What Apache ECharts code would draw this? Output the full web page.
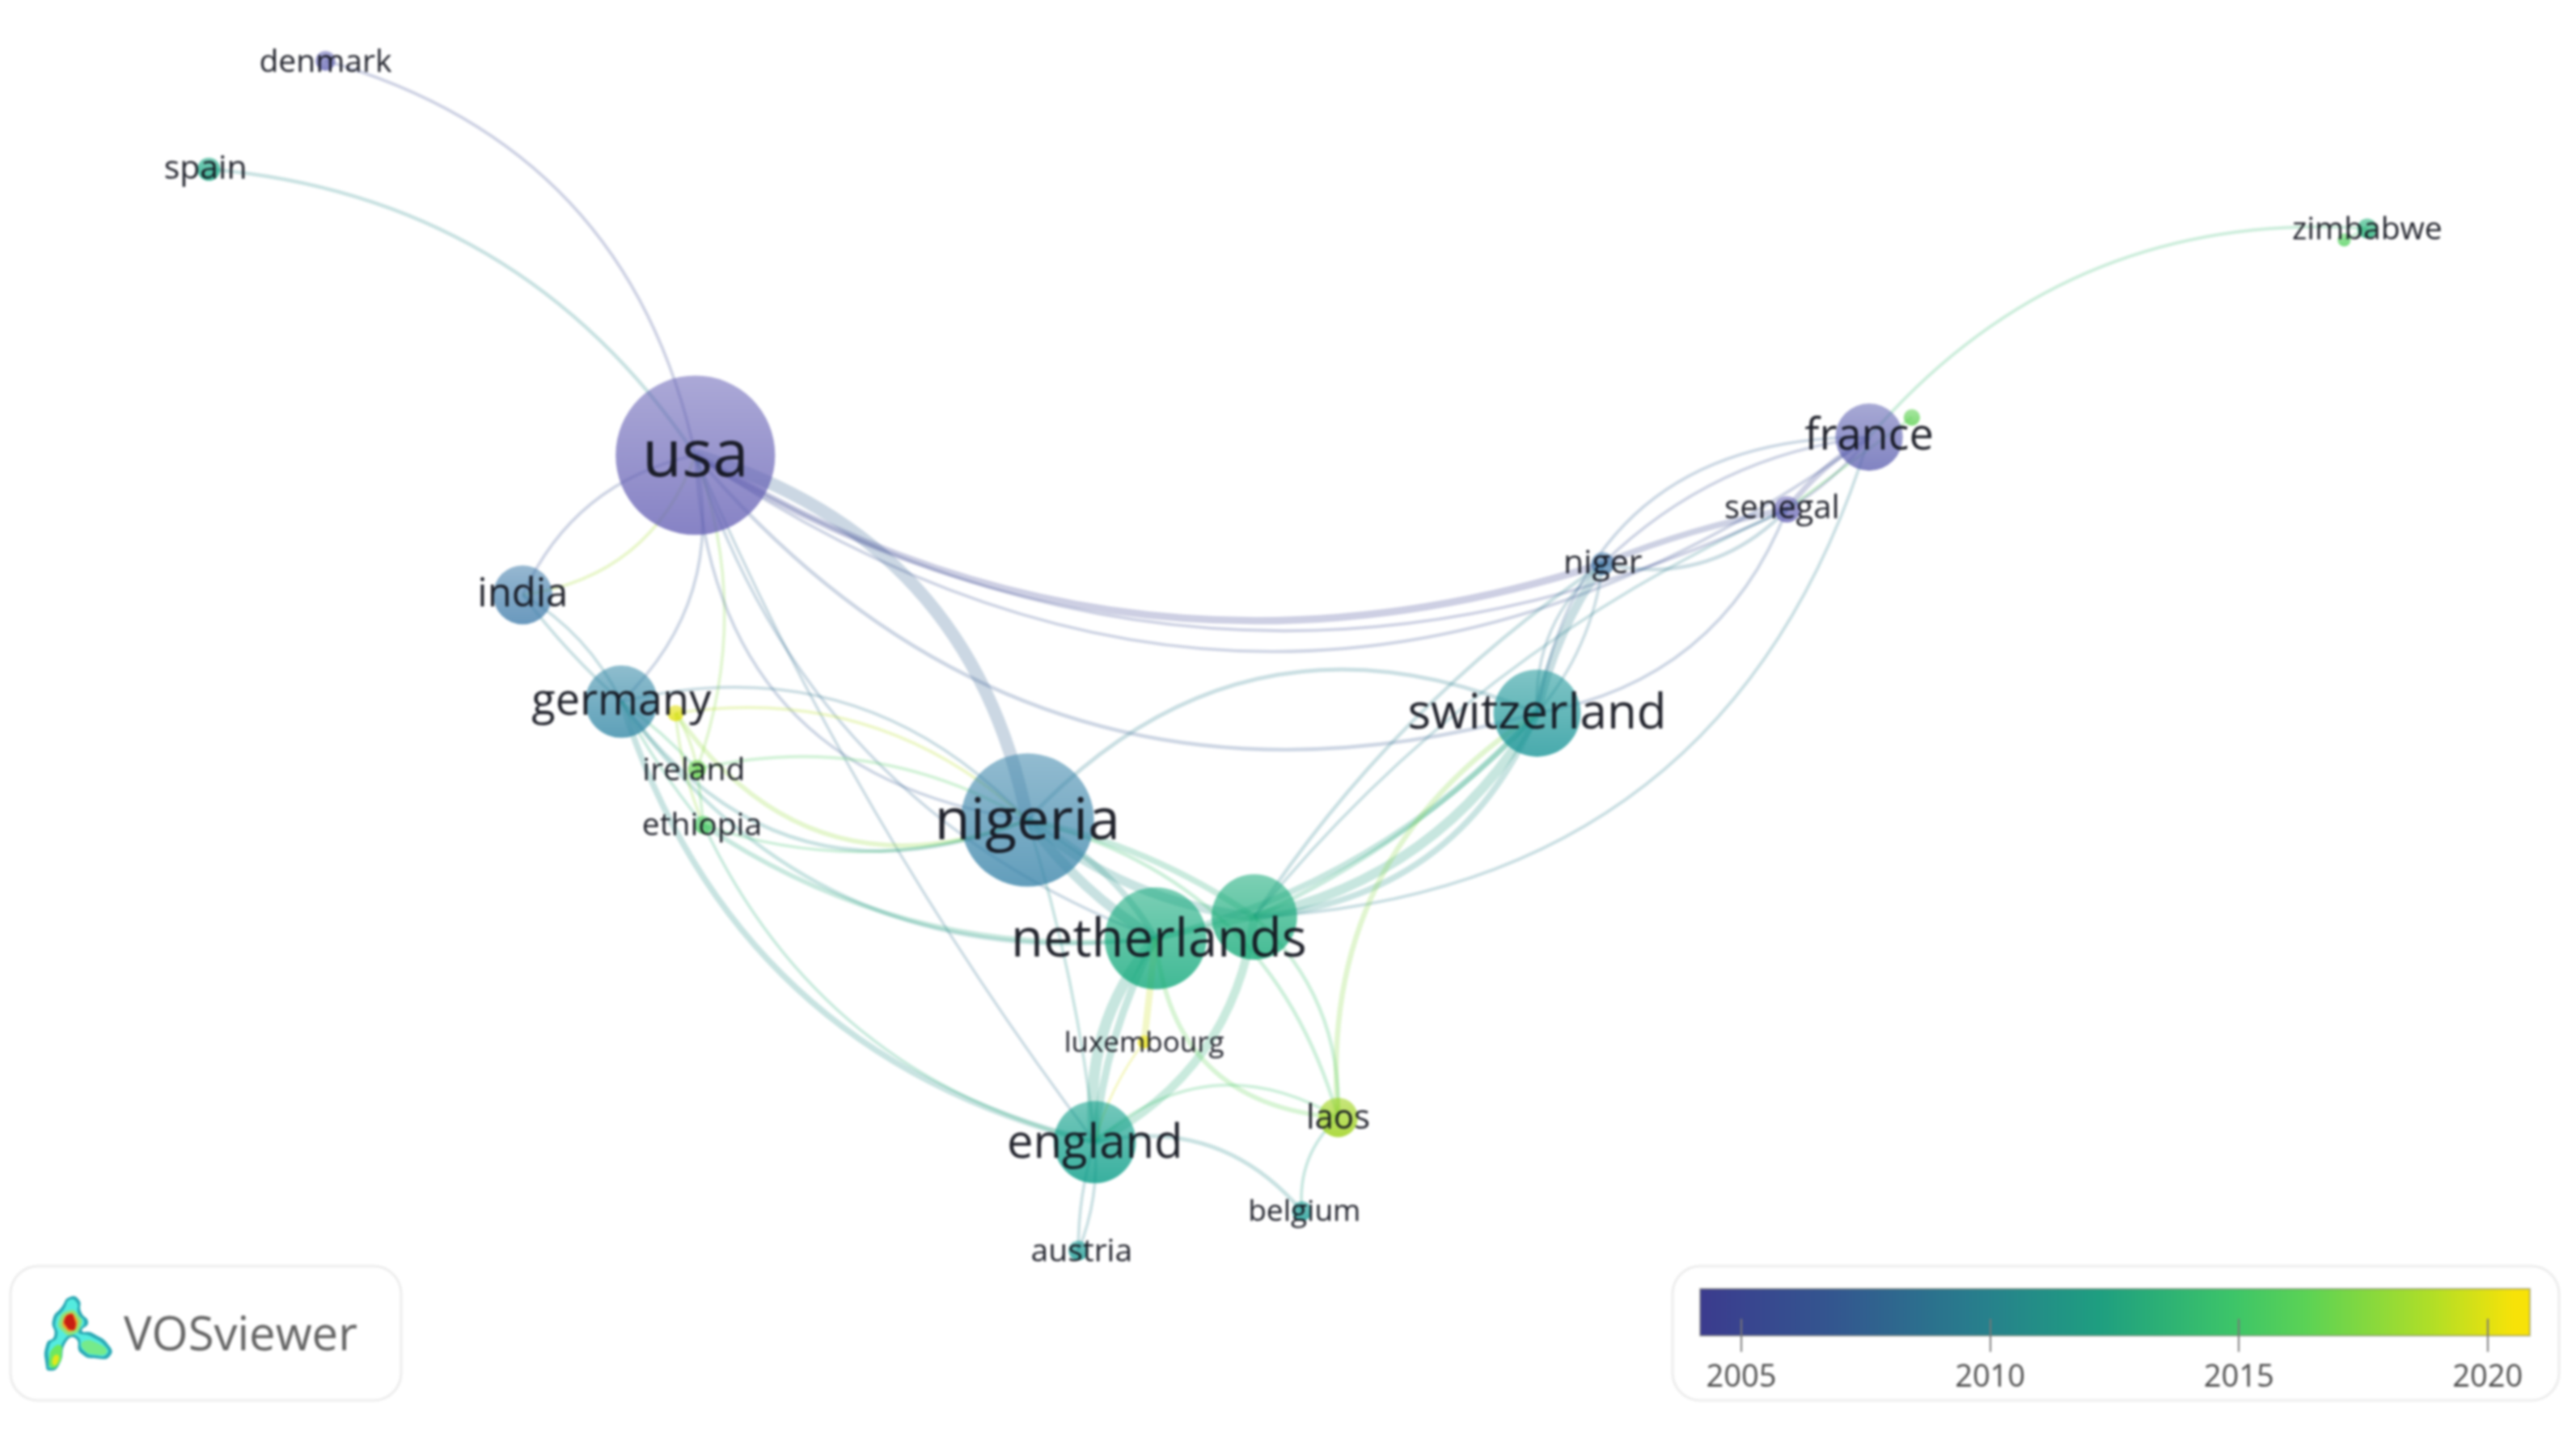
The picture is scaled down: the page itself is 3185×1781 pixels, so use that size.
<!DOCTYPE html>
<html><head><meta charset="utf-8">
<style>html,body{margin:0;padding:0;background:#fff}#main{width:3185px;height:1781px;filter:blur(1.7px)}</style>
<script src="https://cdn.jsdelivr.net/npm/echarts@6/dist/echarts.min.js"></script>
</head><body><div id="main"></div>
<script>
// Nodes of the co-authorship map (map units)
const nodeNames = ['usa','nigeria','netherlands','hidden-a','switzerland','england','germany','india','france','senegal','niger','laos','ireland','ethiopia','hidden-b','hidden-c','zimbabwe','hidden-d','denmark','spain','luxembourg','belgium','austria'];
const nodeX =     [423,625,703,763,935,666,378,318,1137,1087,975,814,424,428,411,1163,1440,1426,198,127,696,792,656];
const nodeY =     [277,499,571,558,434,695,427,362,266,310,343,680,468,502,434,254,139,146,37,103,634,737,761];
const nodeWeight =[97,81,62,52,53,50,44,36,41,16,14,24,11,11,10,10,12,8,12,14,8,12,12];
const nodeYear =  [2004.5,2008.5,2012.3,2012.5,2010.4,2011.3,2008.9,2008,2006,2005,2007.8,2018,2016.5,2015.5,2019.8,2016.3,2013,2016,2005.6,2012,2020,2010.8,2010.8];

// Links of the map
const linkPairs = [
 'denmark|usa','spain|usa','india|usa','india|usa','usa|germany','usa|ireland','usa|nigeria','usa|netherlands','usa|nigeria','usa|england',
 'usa|switzerland','usa|niger','usa|senegal','usa|france','germany|nigeria','hidden-b|nigeria','ireland|nigeria','hidden-b|nigeria','germany|nigeria','ethiopia|nigeria',
 'germany|netherlands','ethiopia|netherlands','germany|england','ethiopia|england','india|germany','india|germany','germany|ireland','hidden-b|ireland','germany|ethiopia','ireland|ethiopia',
 'hidden-b|ethiopia','nigeria|netherlands','nigeria|netherlands','nigeria|hidden-a','nigeria|hidden-a','nigeria|england','nigeria|switzerland','nigeria|laos','netherlands|hidden-a','netherlands|england',
 'netherlands|england','netherlands|luxembourg','luxembourg|england','hidden-a|england','hidden-a|switzerland','hidden-a|switzerland','hidden-a|switzerland','netherlands|switzerland','hidden-a|niger','hidden-a|senegal',
 'hidden-a|france','hidden-a|laos','laos|switzerland','netherlands|laos','england|laos','laos|belgium','england|belgium','england|austria','england|austria','switzerland|niger',
 'switzerland|niger','switzerland|niger','switzerland|senegal','switzerland|france','niger|france','niger|senegal','niger|senegal','senegal|france','senegal|france','hidden-c|senegal',
 'france|zimbabwe','zimbabwe|hidden-d'];
const linkStrength = [
 1,1.2,1,1,1,1,4.2,1,1,0.9,
 1.2,2.4,1,1,1,1,1,1.5,1.2,1,
 1.2,1.5,2,1,1,1,1,1,1,1,
 1,3.2,2,3,2,1,1.3,1.2,2,3.6,
 2.4,2.2,0.8,2.8,3.2,2,1.5,2,1.2,1,
 1,1.2,1.7,1.5,1,1,1.3,1,1,2.8,
 1,1,1,1,1,2,1.2,1.8,1,1,
 1,1];
const linkYear = [
 2005.5,2010.5,2006,2018.5,2006.8,2017.5,2007.4,2008,2007,2008.5,
 2007,2004.8,2005.5,2006,2009,2019,2015.5,2018,2010.5,2014.5,
 2011,2012.5,2011,2013,2009.5,2010,2014,2018,2013,2016,
 2018,2010.5,2011,2011,2013,2011,2009.5,2014.5,2013,2012,
 2012,2019.5,2019.8,2013,2012,2011,2013,2012,2010,2010,
 2009.5,2014.5,2017.5,2016.5,2014.5,2012,2010.5,2010,2010,2009.5,
 2009,2009,2007,2007.5,2006,2005.5,2009,2005.2,2005,2016,
 2014,2015];
const linkBend = [
 0.30,0.24,0.25,-0.30,0.28,0.18,0.30,-0.24,-0.41,-0.06,
 -0.32,-0.23,-0.27,-0.35,0.29,0.24,0.20,-0.39,-0.39,-0.18,
 -0.30,-0.18,-0.28,-0.24,0.15,-0.05,0.05,0.1,-0.05,0,
 -0.08,-0.10,0.15,-0.15,0.10,0.05,0.35,0.29,0,-0.22,
 -0.10,0,-0.10,0.26,-0.22,-0.30,-0.10,-0.15,0.10,0.12,
 -0.35,0.23,0.30,-0.42,0.36,-0.25,0.30,0.12,-0.08,0.10,
 0.25,-0.15,-0.28,0.42,0.17,0.05,-0.28,0.10,-0.10,0,
 0.25,0];

// Legend
const legendTicks = [2005,2010,2015,2020];
const legendRange = [2004.17,2020.85];
const legendColors = ['#3b3b8e','#33568f','#277f8c','#1e9e80','#3cc469','#5bd255','#b0de27','#f7e208'];
const legendOffsets = [0,0.16,0.34,0.48,0.64,0.73,0.88,0.98];
// Node tint ramp over the same years (nodes are drawn translucent)
const nodeRampYears = [2004.5,2006,2008.5,2010.4,2011.3,2012.3,2016,2018,2020];
const nodeRampColors = ['#645fb4','#5d60b0','#3682a8','#149295','#009983','#0ba677','#4fd05a','#97cf0c','#e8e000'];

const labelFont = {usa:80,nigeria:72,netherlands:65,switzerland:60,england:58,germany:54,india:49,france:54,senegal:40,niger:41,laos:42,belgium:37,austria:39,luxembourg:35,ethiopia:39,ireland:39,denmark:39,spain:41,zimbabwe:39};
const labelShift = {netherlands:[4,4],spain:[-4,0],senegal:[-6,0],belgium:[3,2],austria:[4,2],ireland:[-4,3],denmark:[0,3],usa:[0,3],nigeria:[0,3],england:[0,3],germany:[0,1],laos:[0,2],switzerland:[0,2],luxembourg:[0,2],ethiopia:[-2,2],zimbabwe:[0,2]};
const K = 3185/1567;
function ramp(v,xs,cs){
  let i=0; while(i<xs.length-2 && v>xs[i+1]) i++;
  const f=Math.min(1,Math.max(0,(v-xs[i])/(xs[i+1]-xs[i])));
  return echarts.color.lerp(f,[cs[i],cs[i+1]]);
}
const yearColor = y => ramp((y-legendRange[0])/(legendRange[1]-legendRange[0]),legendOffsets,legendColors);
const nodeFill = y => { const c=ramp(y,nodeRampYears,nodeRampColors); return {type:'linear',x:0,y:0,x2:0,y2:1,colorStops:[
  {offset:0,color:echarts.color.modifyAlpha(c,0.54)},
  {offset:1,color:echarts.color.modifyAlpha(c,0.78)}]}; };

const nodes = nodeNames.map((name,i)=>({
  name, value:[nodeX[i],nodeY[i]], symbolSize:nodeWeight[i]*K,
  itemStyle:{color:nodeFill(nodeYear[i])},
  label:{show:!name.startsWith('hidden'),fontSize:labelFont[name]||30,offset:labelShift[name]||[0,0]}
}));
const links = linkPairs.map((p,i)=>{
  const [source,target]=p.split('|');
  return {source,target,lineStyle:{color:yearColor(linkYear[i]),width:linkStrength[i]*3.8,opacity:0.25,curveness:linkBend[i]}};
});

// Logo outlines (zoomed-crop coordinates → page pixels)
const lp = pts => pts.map(([x,y])=>[x/2.613,1500+y/3.02]);
const blob = (pts,fill,z) => ({type:'polygon',shape:{points:lp(pts),smooth:0.6},style:{fill},z:z||1,silent:true});
const logoOuter=[[225,315],[255,325],[262,370],[285,410],[265,440],[300,450],[355,500],[355,535],[320,545],[262,525],[245,470],[215,480],[190,570],[160,590],[148,570],[150,490],[175,460],[170,400],[200,350]];
const logoInner=[[225,325],[248,335],[252,375],[272,410],[252,445],[295,462],[345,505],[345,528],[320,535],[270,515],[250,462],[212,468],[182,560],[160,580],[158,565],[160,495],[185,462],[180,405],[208,358]];

const chart = echarts.init(document.getElementById('main'),null,{renderer:'canvas'});
chart.setOption({
  animation:false,
  backgroundColor:'#fff',
  textStyle:{fontFamily:'"Open Sans"'},
  grid:[
    {left:0,top:0,width:3185,height:1781,show:false},
    {left:2102,top:1594,width:1026,height:58,show:true,borderWidth:2,borderColor:'rgba(125,125,110,0.55)',
     backgroundColor:{type:'linear',x:0,y:0,x2:1,y2:0,colorStops:legendColors.map((color,i)=>({offset:legendOffsets[i],color}))}}
  ],
  xAxis:[
    {gridIndex:0,type:'value',min:0,max:1567,show:false},
    {gridIndex:1,type:'value',min:legendRange[0],max:legendRange[1],position:'bottom',offset:-21,
     axisLine:{show:false},splitLine:{show:false},
     axisTick:{show:true,length:41,customValues:legendTicks,lineStyle:{color:'#777',width:2}},
     axisLabel:{show:true,margin:54,fontSize:38,color:'#4a4a4a',fontFamily:'"Open Sans"',formatter:v=>String(v),customValues:legendTicks,hideOverlap:false,showMinLabel:true,showMaxLabel:true}}
  ],
  yAxis:[
    {gridIndex:0,type:'value',min:0,max:876.3,inverse:true,show:false},
    {gridIndex:1,type:'value',min:0,max:1,show:false}
  ],
  series:[{
    type:'graph',coordinateSystem:'cartesian2d',xAxisIndex:0,yAxisIndex:0,layout:'none',
    silent:true,roam:false,symbol:'circle',
    label:{position:'inside',color:'rgba(18,20,30,0.94)',fontFamily:'"Open Sans"',align:'center',verticalAlign:'middle'},
    data:nodes,links,
    edgeSymbol:['none','none']
  }],
  graphic:[
    {type:'rect',shape:{x:13,y:1566,width:483,height:166,r:34},style:{fill:'none',stroke:'#ececec',lineWidth:3},silent:true},
    {type:'rect',shape:{x:2068,y:1566,width:1096,height:166,r:34},style:{fill:'none',stroke:'#ececec',lineWidth:3},silent:true},
    blob(logoOuter,'#2aa9b4',2),
    blob(logoInner,'#54ebdf',3),
    blob([[225,365],[255,385],[262,420],[235,455],[205,445],[190,405]],'#8fe37a',4),
    blob([[225,375],[245,390],[250,420],[235,442],[212,435],[203,405]],'#f2a22a',5),
    blob([[228,378],[240,395],[243,430],[230,438],[215,425],[208,400]],'#c81e12',6),
    blob([[195,495],[200,520],[190,565],[165,578],[160,540],[172,505]],'#6de85f',4),
    blob([[185,530],[190,550],[175,570],[170,545]],'#e0e81c',5),
    blob([[270,480],[320,490],[345,520],[310,530],[270,510]],'#76ea8a',4),
    {type:'text',style:{x:153,y:1653,text:'VOSviewer',font:'58px "Open Sans"',fill:'#636363',textVerticalAlign:'middle'},silent:true}
  ]
});
</script></body></html>
